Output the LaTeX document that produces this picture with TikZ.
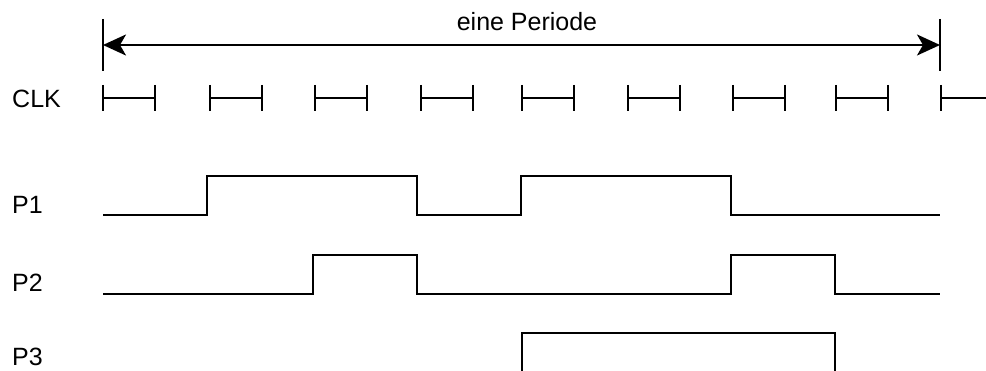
\documentclass[tikz,border=0pt]{standalone}
\usepackage{fontspec}
\setmainfont{Liberation Sans}
\usetikzlibrary{arrows.meta}
\begin{document}
\begin{tikzpicture}[x=1pt,y=-1pt,
  lbl/.style={font=\fontsize{25}{29}\selectfont, anchor=base west, inner sep=0pt},
  sig/.style={line width=2.6pt, line join=miter},
  clktick/.style={line width=2.8pt},
  bar/.style={line width=2.2pt}]
\useasboundingbox (0,0) rectangle (986,371);
% period arrow
\coordinate (Ltop) at (103,19); \coordinate (Lbot) at (103,71);
\coordinate (Rtop) at (940,19); \coordinate (Rbot) at (940,71);
\coordinate (L) at (103,45); \coordinate (R) at (940,45);
\draw[bar] (Ltop) -- (Lbot);
\draw[bar] (Rtop) -- (Rbot);
\draw[bar, {Stealth[length=23pt,width=21pt,inset=6pt]}-{Stealth[length=23pt,width=21pt,inset=6pt]}] (L) -- (R);
\node[lbl, anchor=base] (per) at (527,31) {eine Periode};
% labels
\node[lbl] (clk) at (12,108) {CLK};
\node[lbl] (p1) at (12,214) {P1};
\node[lbl] (p2) at (12,292) {P2};
\node[lbl] (p3) at (12,366) {P3};
% clock ticks
\foreach \x in {103,210,315,421,522,628,733,836}{
  \draw[clktick] (\x,85) -- (\x,111) (\x,98) -- (\x+52,98) (\x+52,85) -- (\x+52,111);
}
\draw[clktick] (941,85) -- (941,111) (941,98) -- (990,98);
% signals
\draw[sig] (103,215) -| (207,176) -| (417,215) -| (521,176) -| (731,215) -- (940,215);
\draw[sig] (103,294) -| (313,255) -| (417,294) -| (731,255) -| (835,294) -- (940,294);
\draw[sig] (522,380) -- (522,333) -- (835,333) -- (835,380);
\end{tikzpicture}
\end{document}
